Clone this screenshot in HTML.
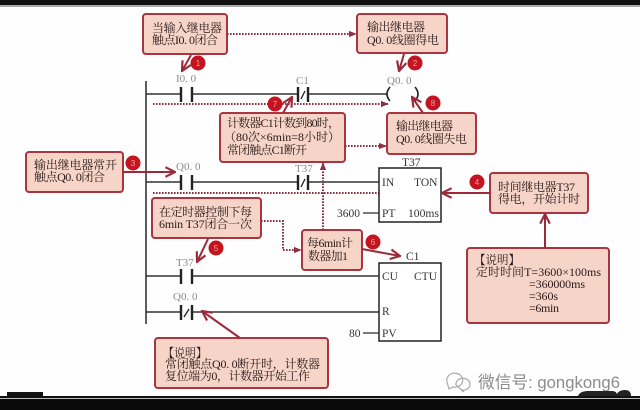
<!DOCTYPE html>
<html><head><meta charset="utf-8"><style>
html,body{margin:0;padding:0;background:#fff;}
svg{display:block;}
.bx{fill:#f6d4c7;stroke:#a8353f;stroke-width:2;}
.t{font-family:"Liberation Serif","Noto Serif CJK SC",serif;font-size:12px;fill:#2a1a1a;}
.lb{font-family:"Liberation Serif","Noto Serif CJK SC",serif;font-size:11px;fill:#8a8a8a;}
.fb{font-family:"Liberation Serif","Noto Serif CJK SC",serif;font-size:11.5px;fill:#333;}
.ln{stroke:#333;stroke-width:1.4;fill:none;}
.ct{stroke:#222;stroke-width:2.4;}
.dt{stroke:#8e2f42;stroke-width:2;stroke-dasharray:1.6 1.4;fill:none;}
.ar{stroke:#9c2a3a;stroke-width:2;fill:none;}
.c{fill:#c3141f;}
.n{font-family:"Liberation Sans",sans-serif;font-size:8px;fill:#f3a0a0;text-anchor:middle;}
</style></head><body>
<svg width="640" height="410" viewBox="0 0 640 410" xmlns="http://www.w3.org/2000/svg">
<defs>
<marker id="ahs" viewBox="0 0 10 10" refX="9" refY="5" markerWidth="12" markerHeight="12" orient="auto" markerUnits="userSpaceOnUse">
<path d="M1,1 L9,5 L1,9" fill="none" stroke="#9c2a3a" stroke-width="1.8"/></marker>
<marker id="dh" viewBox="0 0 10 10" refX="9" refY="5" markerWidth="8" markerHeight="8" orient="auto" markerUnits="userSpaceOnUse">
<path d="M0,1 L10,5 L0,9 Z" fill="#8e2f42"/></marker>
</defs>
<rect width="640" height="410" fill="#fefefe"/>
<rect x="0" y="0" width="640" height="5" fill="#111"/>
<line x1="0" y1="6" x2="640" y2="6" stroke="#555" stroke-width="1"/>

<line x1="146" y1="81" x2="146" y2="324" stroke="#333" stroke-width="1.6"/>

<!-- Rung 1 -->
<path class="ln" d="M146,94 H181 M192,94 H298 M308,94 H387"/>
<line class="ct" x1="181" y1="87" x2="181" y2="102"/>
<line class="ct" x1="192" y1="87" x2="192" y2="102"/>
<line class="ct" x1="298" y1="87" x2="298" y2="102"/>
<line class="ct" x1="308" y1="87" x2="308" y2="102"/>
<line x1="301" y1="99" x2="305" y2="91" stroke="#222" stroke-width="1.3"/>
<path d="M390,87 Q384,94 390,101" stroke="#222" stroke-width="1.6" fill="none"/>
<path d="M415,87 Q421,94 415,101" stroke="#222" stroke-width="1.6" fill="none"/>
<text class="lb" x="176" y="82">I0. 0</text>
<text class="lb" x="296" y="84">C1</text>
<text class="lb" x="387" y="84">Q0. 0</text>
<path class="dt" d="M153,104 H388" marker-end="url(#dh)"/>

<!-- Rung 2 -->
<path class="ln" d="M146,182 H181 M192,182 H298 M308,182 H379"/>
<line class="ct" x1="181" y1="175" x2="181" y2="190"/>
<line class="ct" x1="192" y1="175" x2="192" y2="190"/>
<line class="ct" x1="298" y1="175" x2="298" y2="190"/>
<line class="ct" x1="308" y1="175" x2="308" y2="190"/>
<line x1="301" y1="187" x2="305" y2="179" stroke="#222" stroke-width="1.3"/>
<text class="lb" x="176" y="170">Q0. 0</text>
<text class="lb" x="295" y="172">T37</text>
<path class="dt" d="M153,193 H388" marker-end="url(#dh)"/>

<rect x="379" y="168" width="62" height="54" fill="#fff" stroke="#222" stroke-width="1.5"/>
<text class="fb" x="402" y="166">T37</text>
<text class="fb" x="382" y="186">IN</text>
<text class="fb" x="414" y="186">TON</text>
<text class="fb" x="382" y="217">PT</text>
<text class="fb" x="408" y="217" textLength="31" lengthAdjust="spacingAndGlyphs">100ms</text>
<text class="fb" x="337" y="217">3600</text>
<line x1="363" y1="213" x2="379" y2="213" stroke="#333" stroke-width="1.3"/>

<!-- Rung 3 -->
<path class="ln" d="M146,276 H181 M192,276 H379"/>
<line class="ct" x1="181" y1="269" x2="181" y2="284"/>
<line class="ct" x1="192" y1="269" x2="192" y2="284"/>
<text class="lb" x="176" y="266">T37</text>
<!-- Rung 4 -->
<path class="ln" d="M146,312 H181 M192,312 H379"/>
<line class="ct" x1="181" y1="305" x2="181" y2="320"/>
<line class="ct" x1="192" y1="305" x2="192" y2="320"/>
<line x1="184" y1="317" x2="189" y2="309" stroke="#222" stroke-width="1.3"/>
<text class="lb" x="173" y="300">Q0. 0</text>

<rect x="379" y="263" width="62" height="78" fill="#fff" stroke="#222" stroke-width="1.5"/>
<text class="fb" x="406" y="260">C1</text>
<text class="fb" x="382" y="280">CU</text>
<text class="fb" x="414" y="280">CTU</text>
<text class="fb" x="382" y="315">R</text>
<text class="fb" x="382" y="337">PV</text>
<text class="fb" x="349" y="337">80</text>
<line x1="363" y1="333" x2="379" y2="333" stroke="#333" stroke-width="1.3"/>

<!-- Box 1 -->
<rect class="bx" x="143" y="14" width="84" height="40" rx="3"/>
<text class="t" x="152" y="32" textLength="70" lengthAdjust="spacing">当输入继电器</text>
<text class="t" x="152" y="44" textLength="66" lengthAdjust="spacing">触点I0. 0闭合</text>
<!-- Box 2 -->
<rect class="bx" x="357" y="14" width="90" height="39" rx="3"/>
<text class="t" x="367" y="31" textLength="58" lengthAdjust="spacing">输出继电器</text>
<text class="t" x="367" y="44" textLength="72" lengthAdjust="spacing">Q0. 0线圈得电</text>
<path class="dt" d="M227,34 H356" marker-end="url(#dh)"/>

<!-- Box C1 -->
<rect class="bx" x="220" y="113" width="125" height="49" rx="3"/>
<text class="t" x="227" y="127" textLength="113" lengthAdjust="spacing">计数器C1计数到80时，</text>
<text class="t" x="224" y="141" textLength="116" lengthAdjust="spacing">（80次×6min=8小时）</text>
<text class="t" x="227" y="154" textLength="80" lengthAdjust="spacing">常闭触点C1断开</text>
<!-- Box 失电 -->
<rect class="bx" x="387" y="113" width="89" height="41" rx="3"/>
<text class="t" x="396" y="130" textLength="57" lengthAdjust="spacing">输出继电器</text>
<text class="t" x="396" y="143" textLength="71" lengthAdjust="spacing">Q0. 0线圈失电</text>
<path class="dt" d="M345,146 H386" marker-end="url(#dh)"/>

<!-- Box 常开 -->
<rect class="bx" x="26" y="152" width="97" height="40" rx="3"/>
<text class="t" x="34" y="169" textLength="83" lengthAdjust="spacing">输出继电器常开</text>
<text class="t" x="34" y="181" textLength="71" lengthAdjust="spacing">触点Q0. 0闭合</text>

<!-- Box 4 -->
<rect class="bx" x="490" y="173" width="98" height="40" rx="3"/>
<text class="t" x="498" y="191" textLength="77" lengthAdjust="spacing">时间继电器T37</text>
<text class="t" x="498" y="203" textLength="82" lengthAdjust="spacing">得电，开始计时</text>

<!-- Box 在定时器 -->
<rect class="bx" x="152" y="198" width="109" height="40" rx="3"/>
<text class="t" x="159" y="216" textLength="93" lengthAdjust="spacing">在定时器控制下每</text>
<text class="t" x="159" y="228" textLength="93" lengthAdjust="spacing">6min T37闭合一次</text>

<!-- Box 每6min -->
<rect class="bx" x="302" y="230" width="60" height="40" rx="3"/>
<text class="t" x="307" y="247" textLength="46" lengthAdjust="spacing">每6min计</text>
<text class="t" x="308" y="260" textLength="40" lengthAdjust="spacing">数器加1</text>
<path class="dt" d="M261,221 H283 V250 H301" marker-end="url(#dh)"/>
<path class="dt" d="M323,230 V163" marker-end="url(#dh)"/>

<!-- Box 说明 lower -->
<rect class="bx" x="155" y="338" width="173" height="50" rx="3"/>
<text class="t" x="163" y="357" textLength="44" lengthAdjust="spacingAndGlyphs">【说明】</text>
<text class="t" x="165" y="368" textLength="155" lengthAdjust="spacing">常闭触点Q0. 0断开时，计数器</text>
<text class="t" x="165" y="380" textLength="145" lengthAdjust="spacing">复位端为0，计数器开始工作</text>

<!-- Box 说明 right -->
<rect class="bx" x="467" y="248" width="142" height="75" rx="3"/>
<text class="t" x="474" y="264" textLength="46" lengthAdjust="spacingAndGlyphs">【说明】</text>
<text class="t" x="476" y="276" textLength="125" lengthAdjust="spacing">定时时间T=3600×100ms</text>
<text class="t" x="529" y="288" textLength="56" lengthAdjust="spacing">=360000ms</text>
<text class="t" x="529" y="300" textLength="29" lengthAdjust="spacing">=360s</text>
<text class="t" x="529" y="312" textLength="30" lengthAdjust="spacing">=6min</text>

<!-- solid arrows -->
<path class="ar" d="M191,55 L182,71" marker-end="url(#ahs)"/>
<path class="ar" d="M404,54 L399,71" marker-end="url(#ahs)"/>
<path class="ar" d="M283,113 L292,97" marker-end="url(#ahs)"/>
<path class="ar" d="M423,113 L412,97" marker-end="url(#ahs)"/>
<path class="ar" d="M123,172 L175,172" marker-end="url(#ahs)"/>
<path class="ar" d="M490,193 L442,193" marker-end="url(#ahs)"/>
<path class="ar" d="M208,239 L197,262" marker-end="url(#ahs)"/>
<path class="ar" d="M362,249 L400,256" marker-end="url(#ahs)"/>
<path class="ar" d="M240,338 L202,311" marker-end="url(#ahs)"/>
<path class="ar" d="M545,248 L545,214" marker-end="url(#ahs)"/>

<!-- red circles -->
<circle class="c" cx="198" cy="63" r="7.5"/><text class="n" x="198" y="66">1</text>
<circle class="c" cx="415" cy="63" r="7.5"/><text class="n" x="415" y="66">2</text>
<circle class="c" cx="133" cy="163" r="7.5"/><text class="n" x="133" y="166">3</text>
<circle class="c" cx="477" cy="182" r="7.5"/><text class="n" x="477" y="185">4</text>
<circle class="c" cx="216" cy="248" r="7.5"/><text class="n" x="216" y="251">5</text>
<circle class="c" cx="373" cy="242" r="7.5"/><text class="n" x="373" y="245">6</text>
<circle class="c" cx="275" cy="104" r="7.5"/><text class="n" x="275" y="107">7</text>
<circle class="c" cx="433" cy="103" r="7.5"/><text class="n" x="433" y="106">8</text>

<!-- watermark -->
<g stroke="#aaa" stroke-width="1.2" fill="none">
<path d="M447,382 a8,7 0 1,1 6,5 l-4,2 z"/>
<path d="M456,385 a7,6 0 1,1 5,5 l3,2 z"/>
</g>
<text x="478" y="388" font-family="'Liberation Sans','Noto Sans CJK SC',sans-serif" font-size="17" fill="#8c8c8c" textLength="142" lengthAdjust="spacingAndGlyphs">微信号: gongkong6</text>

<!-- bottom border -->
<rect x="7" y="392" width="36" height="4" fill="#111"/>
<path d="M578,396 q2,-5 10,-5 h24 q4,0 5,3 q2,-4 8,-4 q6,0 6,6 z" fill="#222"/>
<rect x="0" y="396" width="640" height="2" fill="#111"/>
<rect x="0" y="398" width="640" height="1" fill="#bbb"/>
<rect x="0" y="399" width="640" height="11" fill="#0a0a0a"/>
</svg>
</body></html>
